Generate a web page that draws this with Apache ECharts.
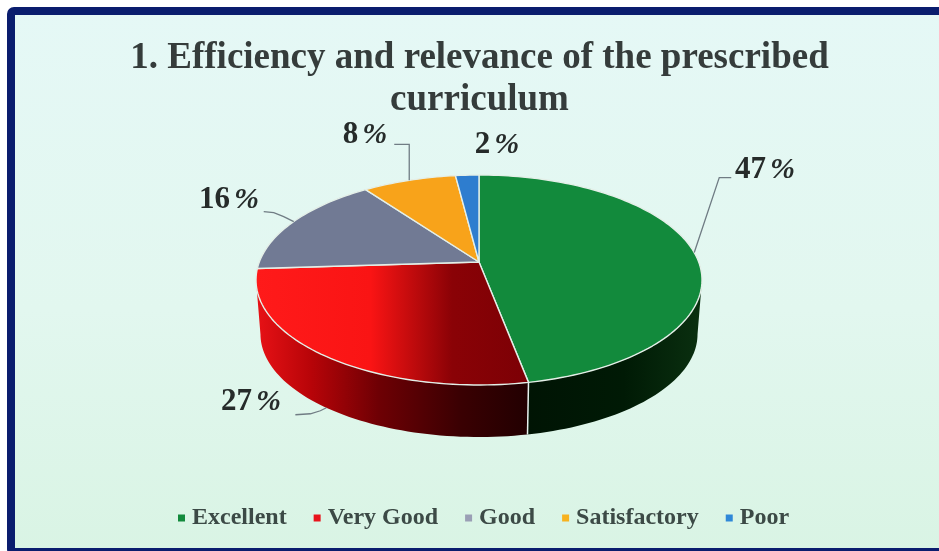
<!DOCTYPE html>
<html>
<head>
<meta charset="utf-8">
<style>html,body{margin:0;padding:0;background:#fff}#c{width:939px;height:551px}</style>
<script src="https://cdn.jsdelivr.net/npm/echarts@6/dist/echarts.min.js"></script>
</head>
<body>
<div id="c"></div>
<script>
const categories = ['Excellent', 'Very Good', 'Good', 'Satisfactory', 'Poor'];
const shares = [47, 27, 16, 8, 2];
const titleText = '1. Efficiency and relevance of the prescribed\ncurriculum';

const legendColors = ['#128a3c', '#e8141c', '#9a9fb5', '#f7b21f', '#2f88d8'];
const topFills = [
  '#128a3c',
  [[0, '#ff1a1a'], [0.42, '#fa1414'], [0.72, '#8a0206'], [1, '#7c0005']],
  '#717a94', '#f8a31a', '#2e7dcf'
];
const sideFills = [
  [[0, '#001404'], [0.55, '#001a05'], [1, '#0a3010']],
  [[0, '#e81216'], [0.2, '#b80408'], [0.45, '#6e0004'], [0.75, '#3a0002'], [1, '#220001']],
  '#4a5063', '#a86f10', '#1c5590'
];
// perspective disc geometry
const vx = 479, vy = 262, bx = 219.7, by = 101.9, persp = -0.1714, sideDrop = 54.5, sideShrink = 0.98;
// label placement: [text x, text y, leader points relative to the slice anchor]
const labelLayout = [
  { x: 765, y: 170, onSide: false, path: [[0, 0], [25, -75], [37, -75]] },
  { x: 251, y: 402, onSide: true,  path: [[0, 0], [-6, 3], [-16, 6], [-31, 7]] },
  { x: 229, y: 200, onSide: false, path: [[0, 0], [-10, -5], [-20, -9], [-30, -10]] },
  { x: 365, y: 135, onSide: false, path: [[0, 0], [0, -36], [-15, -36]] },
  { x: 497, y: 145, onSide: false, path: null }
];

const total = shares.reduce((a, b) => a + b, 0);
function pt(frac) {
  const t = frac * Math.PI * 2, s = Math.sin(t), c = -Math.cos(t), w = 1 + persp * c;
  return [vx + bx * s / w, vy + by * c / w];
}
function low(p) {
  return [vx + (p[0] - vx) * sideShrink, vy + (p[1] - vy) * sideShrink + sideDrop];
}
function arc(a, b) {
  const n = Math.max(2, Math.ceil((b - a) * 240)), out = [];
  for (let i = 0; i <= n; i++) out.push(pt(a + (b - a) * i / n));
  return out;
}
const visA = Math.acos(-(-persp)) / (Math.PI * 2);
const visStart = visA, visEnd = 1 - visA;

function fill(spec, pts) {
  if (!Array.isArray(spec)) return spec;
  const xs = pts.map(p => p[0]);
  return {
    type: 'linear', global: true,
    x: Math.min(...xs), y: 0, x2: Math.max(...xs), y2: 0,
    colorStops: spec.map(s => ({ offset: s[0], color: s[1] }))
  };
}

function renderSlice(index, api) {
  const before = shares.slice(0, index).reduce((a, b) => a + b, 0) / total;
  const after = before + api.value(0) / total;
  const kids = [];
  const a = Math.max(before, visStart), b = Math.min(after, visEnd);
  if (b > a) {
    const up = arc(a, b), side = up.concat(up.slice().reverse().map(low));
    kids.push({ type: 'polygon', shape: { points: side }, style: { fill: fill(sideFills[index], side) } });
    if (after < visEnd) {
      const e = pt(after);
      kids.push({ type: 'line', z2: 3, shape: { x1: e[0], y1: e[1], x2: low(e)[0], y2: low(e)[1] }, style: { stroke: '#e6f2ee', lineWidth: 1.5 } });
    }
  }
  const top = [[vx, vy]].concat(arc(before, after));
  kids.push({ type: 'polygon', z2: 2, shape: { points: top }, style: { fill: fill(topFills[index], top), stroke: '#e4efe8', lineWidth: 1.4, lineJoin: 'round' } });
  const lay = labelLayout[index];
  if (lay.path) {
    let anchor = pt((before + after) / 2);
    if (lay.onSide) anchor = low(anchor);
    kids.push({ type: 'polyline', z2: 4, shape: { points: lay.path.map(p => [anchor[0] + p[0], anchor[1] + p[1]]) }, style: { fill: 'none', stroke: '#707c84', lineWidth: 1.3 } });
  }
  kids.push({
    type: 'text', z2: 5, x: lay.x, y: lay.y,
    style: {
      text: '{n|' + api.value(0) + '}{p|%}',
      align: 'center', verticalAlign: 'middle',
      rich: {
        n: { font: 'bold 31px "Liberation Serif"', fill: '#262b2a' },
        p: { font: 'italic bold 30px "Liberation Serif"', fill: '#262b2a', padding: [0, 0, 0, 4] }
      }
    }
  });
  return { type: 'group', children: kids };
}

const option = {
  animation: false,
  backgroundColor: '#ffffff',
  graphic: [{
    type: 'rect', z: -10, silent: true,
    shape: { x: 11, y: 11, width: 1000, height: 541, r: 3 },
    style: {
      fill: { type: 'linear', x: 0, y: 0, x2: 0, y2: 1, colorStops: [{ offset: 0, color: '#e5f8f6' }, { offset: 0.55, color: '#e2f7ef' }, { offset: 1, color: '#d9f4e4' }] },
      stroke: '#0a1d6e', lineWidth: 8
    }
  }],
  title: {
    text: titleText, left: 474.5, top: 32, textAlign: 'center',
    textStyle: { fontFamily: 'Liberation Serif', fontWeight: 'bold', fontSize: 37, lineHeight: 42, color: '#353c3b' }
  },
  legend: {
    data: categories, left: 173, top: 501, icon: 'rect', itemWidth: 7, itemHeight: 7, itemGap: 27,
    selectedMode: false,
    textStyle: { fontFamily: 'Liberation Serif', fontWeight: 'bold', fontSize: 24, color: '#3c4a46', padding: [0, 0, 0, 2] }
  },
  series: categories.map((name, i) => ({
    type: 'custom', name, coordinateSystem: 'none',
    itemStyle: { color: legendColors[i] },
    data: [[shares[i]]],
    renderItem: (params, api) => renderSlice(i, api)
  }))
};
echarts.init(document.getElementById('c'), null, { renderer: 'canvas' }).setOption(option);
</script>
</body>
</html>
